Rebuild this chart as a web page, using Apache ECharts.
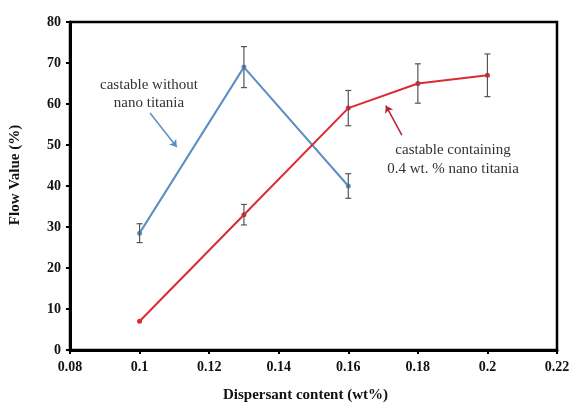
<!DOCTYPE html>
<html>
<head>
<meta charset="utf-8">
<script src="https://cdn.jsdelivr.net/npm/echarts@6/dist/echarts.min.js"></script>
<style>
    html, body { margin: 0; padding: 0; background: #fff; }
    #chart { width: 570px; height: 405px; }
</style>
</head>
<body>
<div id="chart"></div>
<script>
// x values (dispersant content, wt%)
var plainX = [0.1, 0.13, 0.16];
var plainY = [28.5, 69, 40];
var plainErr = [2.3, 5, 3];

var nanoX = [0.1, 0.13, 0.16, 0.18, 0.2];
var nanoY = [7, 33, 59, 65, 67];
var nanoErr = [0, 2.5, 4.3, 4.8, 5.2];

var yTicks = [0, 10, 20, 30, 40, 50, 60, 70, 80];
var xTicks = [0.08, 0.1, 0.12, 0.14, 0.16, 0.18, 0.2, 0.22];

var serif = 'Liberation Serif';

function pairs(xs, ys) {
    var out = [];
    for (var i = 0; i < xs.length; i++) {
        out.push([xs[i], ys[i]]);
    }
    return out;
}

function errRows(xs, ys, es) {
    var out = [];
    for (var i = 0; i < xs.length; i++) {
        if (es[i] > 0) out.push([xs[i], ys[i] - es[i], ys[i] + es[i]]);
    }
    return out;
}

// vertical error bar with small caps
function renderErr(params, api) {
    var lo = api.coord([api.value(0), api.value(1)]);
    var hi = api.coord([api.value(0), api.value(2)]);
    var w = 3;
    var st = { stroke: '#555', lineWidth: 1.2 };
    return {
        type: 'group',
        children: [
            { type: 'line', shape: { x1: lo[0], y1: lo[1], x2: hi[0], y2: hi[1] }, style: st },
            { type: 'line', shape: { x1: lo[0] - w, y1: lo[1], x2: lo[0] + w, y2: lo[1] }, style: st },
            { type: 'line', shape: { x1: hi[0] - w, y1: hi[1], x2: hi[0] + w, y2: hi[1] }, style: st }
        ]
    };
}

var chart = echarts.init(document.getElementById('chart'));

var option = {
    animation: false,
    backgroundColor: '#fff',
    grid: {
        left: 70,
        top: 22,
        right: 13,
        bottom: 55,
        outerBoundsMode: 'none',
        containLabel: false,
        show: true,
        borderColor: '#000',
        borderWidth: 2.5
    },
    xAxis: {
        type: 'value',
        min: xTicks[0],
        max: xTicks[xTicks.length - 1],
        interval: 0.02,
        name: 'Dispersant content (wt%)',
        nameLocation: 'middle',
        nameGap: 38,
        nameTextStyle: { fontFamily: serif, fontWeight: 'bold', fontSize: 15, color: '#111', padding: [0, 16, 0, 0] },
        axisLine: { lineStyle: { color: '#000', width: 3 } },
        axisTick: { show: true, length: 4, lineStyle: { color: '#000', width: 2 } },
        splitLine: { show: false },
        axisLabel: {
            fontFamily: serif, fontWeight: 'bold', fontSize: 14, color: '#111', margin: 10,
            formatter: function(v) { return +v.toFixed(2) + ''; }
        }
    },
    yAxis: {
        type: 'value',
        min: yTicks[0],
        max: yTicks[yTicks.length - 1],
        interval: 10,
        name: 'Flow Value (%)',
        nameLocation: 'middle',
        nameGap: 47,
        nameTextStyle: { fontFamily: serif, fontWeight: 'bold', fontSize: 15, color: '#111', padding: [0, 0, 0, 22] },
        axisLine: { lineStyle: { color: '#000', width: 3 } },
        axisTick: { show: true, length: 4, lineStyle: { color: '#000', width: 2 } },
        splitLine: { show: false },
        axisLabel: { fontFamily: serif, fontWeight: 'bold', fontSize: 14, color: '#111', margin: 9 }
    },
    graphic: [
        {
            type: 'text', x: 149, y: 76,
            style: {
                text: 'castable without\nnano titania',
                font: '15px "Liberation Serif"', fill: '#333', align: 'center', lineHeight: 18
            }
        },
        {
            type: 'text', x: 453, y: 141,
            style: {
                text: 'castable containing\n0.4 wt. % nano titania',
                font: '15px "Liberation Serif"', fill: '#333', align: 'center', lineHeight: 19
            }
        }
    ],
    series: [
        {
            name: 'castable without nano titania',
            type: 'line',
            data: pairs(plainX, plainY),
            symbol: 'circle',
            symbolSize: 5,
            itemStyle: { color: '#5b8ec4' },
            lineStyle: { color: '#5b8ec4', width: 2 },
            markLine: {
                silent: true,
                symbol: ['none', 'arrow'],
                symbolSize: 7,
                label: { show: false },
                lineStyle: { color: '#5b8ec4', width: 1.5, type: 'solid' },
                data: [[{ coord: [0.103, 57.8] }, { coord: [0.1107, 49.5] }]]
            }
        },
        {
            name: 'castable containing 0.4 wt. % nano titania',
            type: 'line',
            data: pairs(nanoX, nanoY),
            symbol: 'circle',
            symbolSize: 5,
            itemStyle: { color: '#dc2a33' },
            lineStyle: { color: '#dc2a33', width: 2 },
            markLine: {
                silent: true,
                symbol: ['none', 'arrow'],
                symbolSize: 7,
                label: { show: false },
                lineStyle: { color: '#b8232b', width: 1.5, type: 'solid' },
                data: [[{ coord: [0.1754, 52.4] }, { coord: [0.1708, 59.6] }]]
            }
        },
        {
            type: 'custom',
            renderItem: renderErr,
            data: errRows(plainX, plainY, plainErr),
            encode: { x: 0, y: [1, 2] },
            z: 5
        },
        {
            type: 'custom',
            renderItem: renderErr,
            data: errRows(nanoX, nanoY, nanoErr),
            encode: { x: 0, y: [1, 2] },
            z: 5
        }
    ]
};

chart.setOption(option);
</script>
</body>
</html>
